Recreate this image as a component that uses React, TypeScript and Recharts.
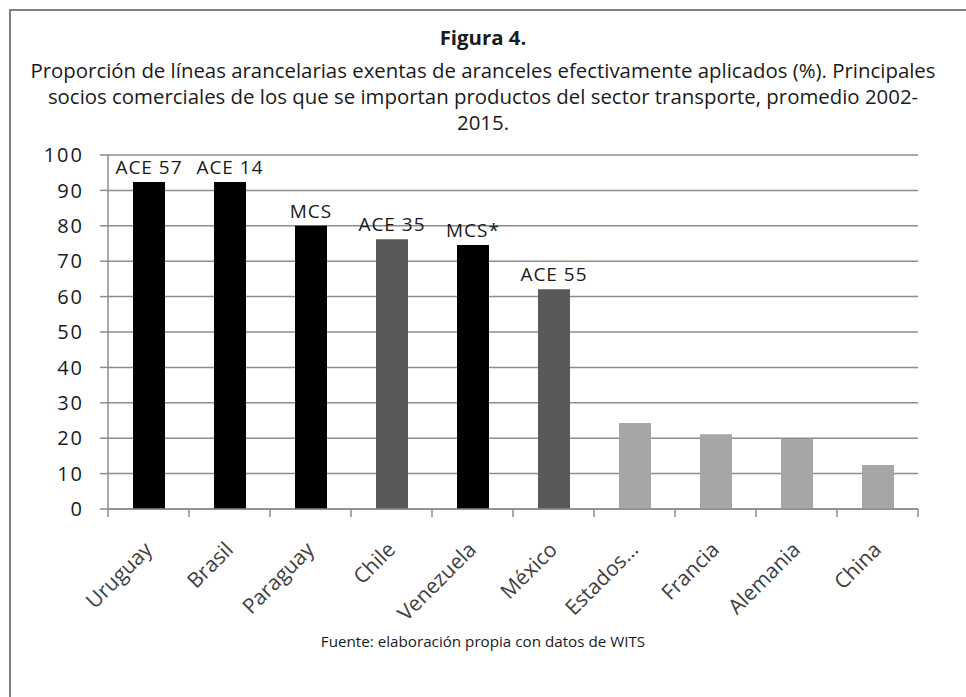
import React from 'react';
import { BarChart, Bar, XAxis, YAxis, CartesianGrid, Cell, LabelList } from 'recharts';

const categories = ['Uruguay', 'Brasil', 'Paraguay', 'Chile', 'Venezuela', 'México', 'Estados…', 'Francia', 'Alemania', 'China'];
const values = [92.4, 92.4, 80.0, 76.2, 74.6, 62.1, 24.3, 21.1, 19.8, 12.4];
const agreements = ['ACE 57', 'ACE 14', 'MCS', 'ACE 35', 'MCS*', 'ACE 55', '', '', '', ''];
const groups = ['mercosur', 'mercosur', 'mercosur', 'ace', 'mercosur', 'ace', 'otros', 'otros', 'otros', 'otros'];
const yTicks = [0, 10, 20, 30, 40, 50, 60, 70, 80, 90, 100];

const groupColors: Record<string, string> = {
  mercosur: '#000000',
  ace: '#595959',
  otros: '#a6a6a6',
};

const data = categories.map((name, i) => ({
  name,
  value: values[i],
  acuerdo: agreements[i],
  grupo: groups[i],
}));

const FONT = '"Open Sans", Lato, sans-serif';
const AXIS = '#8c8c8c';

// etiqueta girada + marcas de división entre categorías (estilo Excel)
const RotatedTick = (props: any) => {
  const { x, y, payload, index, visibleTicksCount } = props;
  const half = payload.offset ?? 40.5;
  const tx = x + 5;
  const ty = y + 34;
  const last = index === visibleTicksCount - 1;
  return (
    <g>
      <line x1={x - half} x2={x - half} y1={y - 8} y2={y} stroke={AXIS} strokeWidth={1.5} />
      {last && <line x1={x + half} x2={x + half} y1={y - 8} y2={y} stroke={AXIS} strokeWidth={1.5} />}
      <text
        x={tx}
        y={ty}
        textAnchor="end"
        transform={`rotate(-45, ${tx}, ${ty})`}
        fill="#404040"
        fontSize={21}
        fontFamily={FONT}
      >
        {payload.value}
      </text>
    </g>
  );
};

// etiqueta del acuerdo sobre cada barra, sin cortar en dos líneas
const BarTag = (props: any) => {
  const { x, y, width, value } = props;
  if (!value) return null;
  return (
    <text
      x={x + width / 2}
      y={y - 8}
      textAnchor="middle"
      fill="#1a1a1a"
      fontSize={19}
      fontFamily={FONT}
      letterSpacing={1}
    >
      {value}
    </text>
  );
};

export default function App() {
  return (
    <div style={{ position: 'absolute', left: 0, top: 0, width: 966, height: 697, background: '#fff', overflow: 'hidden', fontFamily: FONT }}>
      <div style={{ position: 'absolute', left: 9, top: 9, width: 1000, height: 1000, borderTop: '2px solid #808080', borderLeft: '2px solid #808080' }} />
      <BarChart
        width={966}
        height={697}
        data={data}
        margin={{ top: 155, right: 48, left: 48, bottom: 68 }}
        style={{ position: 'absolute', left: 0, top: 0 }}
      >
        <CartesianGrid vertical={false} stroke={AXIS} strokeWidth={1.5} />
        <XAxis
          dataKey="name"
          height={120}
          tickLine={false}
          tickSize={8}
          tickMargin={0}
          stroke={AXIS}
          strokeWidth={1.5}
          interval={0}
          tick={<RotatedTick />}
        />
        <YAxis
          domain={[0, 100]}
          ticks={yTicks}
          width={60}
          tickSize={8}
          tickMargin={16}
          stroke={AXIS}
          strokeWidth={1.5}
          tick={{ fill: '#1a1a1a', fontSize: 20, fontFamily: FONT, letterSpacing: 2 }}
          interval={0}
        />
        <Bar dataKey="value" barSize={32} isAnimationActive={false}>
          {data.map((d) => (
            <Cell key={d.name} fill={groupColors[d.grupo]} />
          ))}
          <LabelList dataKey="acuerdo" content={<BarTag />} />
        </Bar>
      </BarChart>
      <div style={{ position: 'absolute', left: 0, width: 966, top: 24, textAlign: 'center', color: '#1a1a1a', fontSize: 20.4, lineHeight: '26px' }}>
        <div style={{ fontWeight: 700 }}>Figura 4.</div>
        <div style={{ marginTop: 7 }}>Proporción de líneas arancelarias exentas de aranceles efectivamente aplicados (%). Principales</div>
        <div>socios comerciales de los que se importan productos del sector transporte, promedio 2002-</div>
        <div>2015.</div>
      </div>
      <div style={{ position: 'absolute', left: 0, width: 966, top: 631, textAlign: 'center', color: '#1a1a1a', fontSize: 15.2 }}>
        Fuente: elaboración propia con datos de WITS
      </div>
    </div>
  );
}
